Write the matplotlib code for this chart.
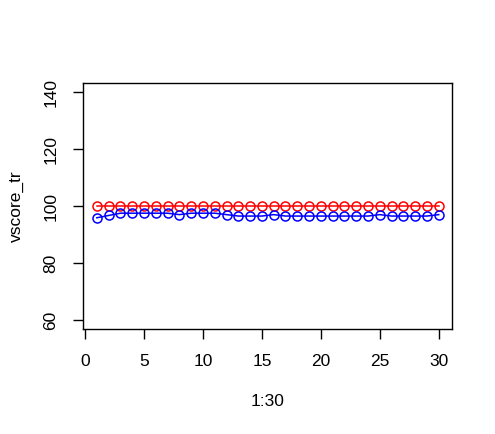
import matplotlib as mpl
mpl.use('Agg')
import matplotlib.pyplot as plt
import numpy as np

plt.rcParams['font.family'] = ['Liberation Sans', 'DejaVu Sans']

x = np.arange(1, 31)
red = [100.0] * 30
blue = [96.0, 96.8, 97.6, 97.6, 97.6, 97.6, 97.6, 97.1, 97.6, 97.6,
        97.6, 97.1, 96.6, 96.6, 96.6, 97.1, 96.6, 96.6, 96.6, 96.6,
        96.6, 96.6, 96.6, 96.6, 97.1, 96.6, 96.6, 96.6, 96.6, 97.1]
xticks = [0, 5, 10, 15, 20, 25, 30]
yticks = [60, 80, 100, 120, 140]

fig = plt.figure(figsize=(4.95, 4.34), dpi=100)
ax = fig.add_axes([0.168, 0.241, 0.746, 0.567])

ax.plot(x, red, '-', color='red', lw=1.1, marker='o', ms=6.5,
        mfc='none', mew=1.1)
ax.plot(x, blue, '-', color='blue', lw=1.1, marker='o', ms=6.5,
        mfc='none', mew=1.1)

ax.set_xlim(1 - 29 * 0.04, 30 + 29 * 0.04)
ax.set_ylim(60 - 80 * 0.04, 140 + 80 * 0.04)
ax.set_xticks(xticks)
ax.set_yticks(yticks)
ax.set_yticklabels([str(v) for v in yticks], rotation=90, va='center')
ax.tick_params(length=7.5, width=1.0, labelsize=12.5, pad=10.5, color='black')
for s in ax.spines.values():
    s.set_linewidth(1.0)

ax.set_xlabel('1:30', fontsize=12.5, labelpad=18)
ax.set_ylabel('vscore_tr', fontsize=12.5, labelpad=14)

plt.savefig('out.png', dpi=100)
